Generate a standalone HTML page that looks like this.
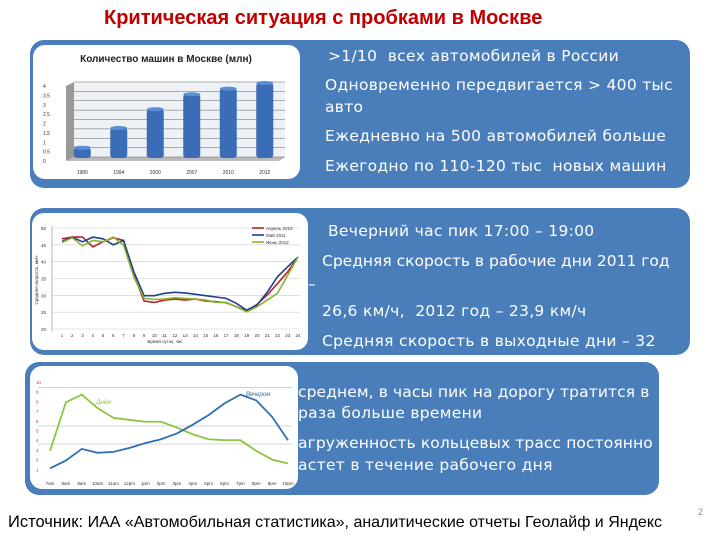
<!DOCTYPE html>
<html><head><meta charset="utf-8">
<style>
html,body{margin:0;padding:0;background:#fff;}
body{width:720px;height:540px;position:relative;overflow:hidden;font-family:"Liberation Sans","DejaVu Sans",sans-serif;}
.abs{position:absolute;}
.box{position:absolute;background:#4a7ebb;border-radius:14px;}
.txt{position:absolute;color:#fff;font-family:"DejaVu Sans","Liberation Sans",sans-serif;font-size:15.5px;white-space:nowrap;letter-spacing:0.3px;}
.pane{position:absolute;background:#fff;border-radius:12px;}
</style></head><body>
<div class="abs" style="left:104px;top:7px;font-size:20px;font-weight:bold;color:#c00000;">Критическая ситуация с пробками в Москве</div>

<div class="box" style="left:30px;top:40px;width:660px;height:148px;"></div>
<div class="box" style="left:30px;top:208px;width:660px;height:147px;"></div>
<div class="box" style="left:25px;top:362px;width:634px;height:133px;"></div>

<div class="txt" style="left:328px;top:47px;">&gt;1/10 &nbsp;всех автомобилей в России</div>
<div class="txt" style="left:325px;top:76px;">Одновременно передвигается &gt; 400 тыс</div>
<div class="txt" style="left:325px;top:98px;">авто</div>
<div class="txt" style="left:325px;top:127px;">Ежедневно на 500 автомобилей больше</div>
<div class="txt" style="left:325px;top:157px;">Ежегодно по 110-120 тыс &nbsp;новых машин</div>

<div class="txt" style="left:328px;top:222px;">Вечерний час пик 17:00 – 19:00</div>
<div class="txt" style="left:322px;top:252px;letter-spacing:0px;">Средняя скорость в рабочие дни 2011 год</div>
<div class="txt" style="left:308px;top:275px;">–</div>
<div class="txt" style="left:322px;top:302px;">26,6 км/ч, &nbsp;2012 год – 23,9 км/ч</div>
<div class="txt" style="left:322px;top:332px;">Средняя скорость в выходные дни – 32</div>

<div class="txt" style="left:298px;top:383px;letter-spacing:0.1px;">среднем, в часы пик на дорогу тратится в</div>
<div class="txt" style="left:298px;top:404px;">раза больше времени</div>
<div class="txt" style="left:298px;top:434px;letter-spacing:0.1px;">агруженность кольцевых трасс постоянно</div>
<div class="txt" style="left:298px;top:456px;">астет в течение рабочего дня</div>

<div class="abs" style="left:8px;top:513px;font-size:16.5px;color:#000;white-space:nowrap;">Источник: <span style="font-size:16px">ИАА «Автомобильная статистика», аналитические отчеты Геолайф и Яндекс</span></div>
<div class="abs" style="left:698px;top:507px;font-size:9px;color:#888;">2</div>

<div class="pane" style="left:33px;top:45px;width:267px;height:134px;"></div>
<div class="pane" style="left:32px;top:213px;width:276px;height:137px;"></div>
<div class="pane" style="left:30px;top:366px;width:268px;height:123px;"></div>

<svg class="abs" style="left:0;top:0" width="720" height="540">
<g id="c1"></g><g id="c2"></g><g id="c3"></g>
</svg>
<script>
const NS="http://www.w3.org/2000/svg";
function mk(p,t,a){const e=document.createElementNS(NS,t);for(const k in a)e.setAttribute(k,a[k]);p.appendChild(e);return e;}

// Chart 1
const carYears=["1980","1994","2000","2007","2010","2012"];
const carValues=[0.55,1.6,2.6,3.4,3.7,4.0];
const carTicks=["0","0.5","1","1.5","2","2.5","3","3.5","4"];
// Chart 2
const hours=["1","2","3","4","5","6","7","8","9","10","11","12","13","14","15","16","17","18","19","20","21","22","23","24"];
const speed2010=[46.8,47.3,47.3,44.4,45.9,47.1,46.3,36,28.3,27.9,28.6,28.9,28.6,28.9,28.3,28.1,27.8,26.6,25.3,27.3,30.1,33.5,37,41.4];
const speed2011=[46,47.3,45.9,47.3,46.8,45,46.3,37,29.9,29.9,30.6,30.9,30.7,30.3,29.9,29.5,29.1,27.6,25.6,27.1,30.9,35.5,38.5,41.4];
const speed2012=[45.7,47.1,44.7,46.3,45.9,47.3,44.9,35.5,29.1,28.8,28.9,29.3,29.1,28.9,28.6,27.9,27.9,26.6,25.1,26.6,28.6,30.6,36,41.4];
const speedTicks=[20,25,30,35,40,45,50];
// Chart 3
const dayHours=["7am","8am","9am","10am","11am","12pm","1pm","2pm","3pm","4pm","5pm","6pm","7pm","8pm","9pm","10pm"];
const dayLoad=[2.9,7.9,8.7,7.3,6.3,6.1,5.9,5.9,5.3,4.6,4.1,4.0,4.0,2.9,2.0,1.6];
const eveningLoad=[1.1,1.9,3.1,2.7,2.8,3.2,3.7,4.1,4.7,5.6,6.6,7.8,8.7,8.1,6.4,4.0];
const loadTicks=[1,2,3,4,5,6,7,8,9,10];

(function(){
 const g=document.getElementById('c1');
 const t=mk(g,'text',{x:166,y:62,'font-size':10,'font-weight':'bold','text-anchor':'middle',fill:'#222'});t.textContent='Количество машин в Москве (млн)';
 
 
 const x0=66,x1=285,yb=161,yt=86;const y=v=>yb-(v/4)*(yb-yt);
 mk(g,'polygon',{points:`${x0},${yt} ${x0+8},${yt-4} ${x0+8},${yb-4} ${x0},${yb}`,fill:'#999'});
 mk(g,'rect',{x:x0+8,y:yt-4,width:x1-x0-8,height:yb-yt,fill:'#eef1f6'});
 mk(g,'polygon',{points:`${x0},${yb} ${x0+8},${yb-4} ${x1},${yb-4} ${x1-6},${yb}`,fill:'#bbb'});
 carTicks.forEach(s=>{const v=+s;const yy=y(v);
  mk(g,'line',{x1:x0+8,x2:x1,y1:yy-4,y2:yy-4,stroke:'#666','stroke-width':0.6});
  const tx=mk(g,'text',{x:43,y:yy+2,'font-size':5,fill:'#333'});tx.textContent=s;
  
  });
 const bw=(x1-x0)/carYears.length;
 carYears.forEach((yr,i)=>{const cx=x0+bw*(i+0.5)-2;const v=carValues[i];
  const r=mk(g,'rect',{x:cx-8.5,y:y(v)-3,width:17,height:yb-y(v),fill:'#3a6db5',rx:3});
  
  
  mk(g,'ellipse',{cx:cx,cy:y(v)-3,rx:8.5,ry:2,fill:'#5b8fd4'});
  const tx=mk(g,'text',{x:cx,y:174,'font-size':5,'text-anchor':'middle',fill:'#333'});tx.textContent=yr;
  
  });
})();

(function(){
 const g=document.getElementById('c2');
 const x0=62,x1=298,y=v=>228+(50-v)*(101/30);
 mk(g,'line',{x1:52,x2:52,y1:226,y2:332,stroke:'#888','stroke-width':0.6});
 speedTicks.forEach(v=>{mk(g,'line',{x1:52,x2:300,y1:y(v),y2:y(v),stroke:'#ccc','stroke-width':0.6});
  const tx=mk(g,'text',{x:41,y:y(v)+2,'font-size':4.5,fill:'#333'});tx.textContent=v;
  
  });
 const xs=i=>x0+i*(x1-x0)/(hours.length-1);
 hours.forEach((h,i)=>{const tx=mk(g,'text',{x:xs(i),y:337,'font-size':4.5,'text-anchor':'middle',fill:'#333'});tx.textContent=h;
  
  });
 const yl=mk(g,'text',{x:38,y:280,'font-size':4.5,fill:'#333',transform:'rotate(-90 38 280)','text-anchor':'middle'});yl.textContent='Средняя скорость, км/ч';
 
 
 const xl=mk(g,'text',{x:165,y:343,'font-size':4.5,fill:'#333','text-anchor':'middle'});xl.textContent='Время суток, час';
 
 
 [[speed2010,'#c0202a','Апрель 2010'],[speed2011,'#1f3f8f','Май 2011'],[speed2012,'#8ab32e','Июнь 2012']].forEach((s,k)=>{
  const p=mk(g,'polyline',{points:s[0].map((v,i)=>xs(i)+','+y(v)).join(' '),fill:'none',stroke:s[1],'stroke-width':1.6});
  
  
  mk(g,'line',{x1:252,x2:264,y1:228+k*7,y2:228+k*7,stroke:s[1],'stroke-width':1.6});
  const tx=mk(g,'text',{x:266,y:230+k*7,'font-size':4.5,fill:'#333'});tx.textContent=s[2];
  
  });
})();

(function(){
 const g=document.getElementById('c3');
 const x0=50,x1=288,y=v=>382+(10-v)*9.7;
 [387.5,426,444].forEach(yy=>mk(g,'line',{x1:38,x2:292,y1:yy,y2:yy,stroke:'#aaa','stroke-width':0.6}));
 loadTicks.forEach(v=>{const tx=mk(g,'text',{x:36,y:y(v)+2,'font-size':4.5,fill:'#c33'});tx.textContent=v;
  
  });
 const xs=i=>x0+i*(x1-x0)/(dayHours.length-1);
 dayHours.forEach((h,i)=>{const tx=mk(g,'text',{x:xs(i),y:485,'font-size':4.5,'text-anchor':'middle',fill:'#333'});tx.textContent=h;
  
  });
 [[dayLoad,'#8cc63f'],[eveningLoad,'#2f6fb0']].forEach((s,k)=>{
  const p=mk(g,'polyline',{points:s[0].map((v,i)=>xs(i)+','+y(v)).join(' '),fill:'none',stroke:s[1],'stroke-width':1.8});
  
  });
 const a=mk(g,'text',{x:96,y:404,'font-size':6,'font-style':'italic',fill:'#8cc63f'});a.textContent='Днём';
 
 
 const b=mk(g,'text',{x:246,y:396,'font-size':6,'font-style':'italic',fill:'#2f6fb0'});b.textContent='Вечером';
 
 
})();
</script>
</body></html>
